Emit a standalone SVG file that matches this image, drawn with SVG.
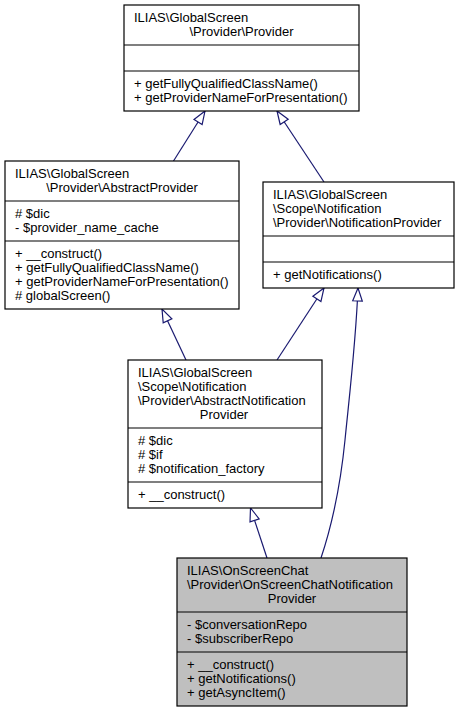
<svg xmlns="http://www.w3.org/2000/svg" width="461" height="713" viewBox="0 0 461 713">
<style>
  .box { fill: #ffffff; stroke: #000000; stroke-width: 1.2; }
  .box.main { fill: #bfbfbf; }
  .sep { stroke: #000000; stroke-width: 1.2; }
  text { font-family: "Liberation Sans", Arial, Helvetica, sans-serif; font-size: 13px; fill: #000000; }
  .c { text-anchor: middle; }
  .edge { fill: none; stroke: #191970; stroke-width: 1.2; marker-end: url(#inh); }
</style>
<defs>
  <marker id="inh" markerUnits="userSpaceOnUse" markerWidth="16" markerHeight="12" viewBox="-1 -6 16 12" refX="13" refY="0" orient="auto" overflow="visible">
    <path d="M0,-4.8 L13,0 L0,4.8 Z" fill="#ffffff" stroke="#191970" stroke-width="1.2"/>
  </marker>
</defs>
<rect width="461" height="713" fill="#ffffff"/>

<g id="connectors">
  <path class="edge" d="M173.5,161 L205,111"/>
  <path class="edge" d="M324,182 L277,111"/>
  <path class="edge" d="M186,360 L162,309"/>
  <path class="edge" d="M277,360 L324,288"/>
  <path class="edge" d="M321,558 C331,528 340,490 345,440 C350,390 356,340 358,288"/>
  <path class="edge" d="M267,558 L250.5,508"/>
</g>

<g id="node-provider">
  <rect class="box" x="124" y="5" width="235" height="106"/>
  <text x="134" y="21.5">ILIAS\GlobalScreen</text>
  <text class="c" x="241.5" y="35.5">\Provider\Provider</text>
  <line class="sep" x1="124" y1="45" x2="359" y2="45"/>
  <line class="sep" x1="124" y1="71" x2="359" y2="71"/>
  <text x="134" y="87.5">+ getFullyQualifiedClassName()</text>
  <text x="134" y="101.5">+ getProviderNameForPresentation()</text>
</g>

<g id="node-abstractprovider">
  <rect class="box" x="5" y="161" width="234" height="148"/>
  <text x="15" y="177.5">ILIAS\GlobalScreen</text>
  <text class="c" x="122" y="191.5">\Provider\AbstractProvider</text>
  <line class="sep" x1="5" y1="201" x2="239" y2="201"/>
  <text x="15" y="217.5"># $dic</text>
  <text x="15" y="231.5">- $provider_name_cache</text>
  <line class="sep" x1="5" y1="241" x2="239" y2="241"/>
  <text x="15" y="257.5">+ __construct()</text>
  <text x="15" y="271.5">+ getFullyQualifiedClassName()</text>
  <text x="15" y="285.5">+ getProviderNameForPresentation()</text>
  <text x="15" y="299.5"># globalScreen()</text>
</g>

<g id="node-notificationprovider">
  <rect class="box" x="263" y="182" width="191" height="106"/>
  <text x="273" y="198.5">ILIAS\GlobalScreen</text>
  <text x="273" y="212.5">\Scope\Notification</text>
  <text x="273" y="226.5">\Provider\NotificationProvider</text>
  <line class="sep" x1="263" y1="236" x2="454" y2="236"/>
  <line class="sep" x1="263" y1="262" x2="454" y2="262"/>
  <text x="273" y="278.5">+ getNotifications()</text>
</g>

<g id="node-abstractnotificationprovider">
  <rect class="box" x="128" y="360" width="194" height="148"/>
  <text x="138" y="376.5">ILIAS\GlobalScreen</text>
  <text x="138" y="390.5">\Scope\Notification</text>
  <text x="138" y="404.5">\Provider\AbstractNotification</text>
  <text class="c" x="224" y="418.5">Provider</text>
  <line class="sep" x1="128" y1="428" x2="322" y2="428"/>
  <text x="138" y="444.5"># $dic</text>
  <text x="138" y="458.5"># $if</text>
  <text x="138" y="472.5"># $notification_factory</text>
  <line class="sep" x1="128" y1="482" x2="322" y2="482"/>
  <text x="138" y="498.5">+ __construct()</text>
</g>

<g id="node-onscreenchatnotificationprovider">
  <rect class="box main" x="177" y="558" width="230" height="148"/>
  <text x="187" y="574.5">ILIAS\OnScreenChat</text>
  <text x="187" y="588.5">\Provider\OnScreenChatNotification</text>
  <text class="c" x="292" y="602.5">Provider</text>
  <line class="sep" x1="177" y1="612" x2="407" y2="612"/>
  <text x="187" y="628.5">- $conversationRepo</text>
  <text x="187" y="642.5">- $subscriberRepo</text>
  <line class="sep" x1="177" y1="652" x2="407" y2="652"/>
  <text x="187" y="668.5">+ __construct()</text>
  <text x="187" y="682.5">+ getNotifications()</text>
  <text x="187" y="696.5">+ getAsyncItem()</text>
</g>
</svg>
